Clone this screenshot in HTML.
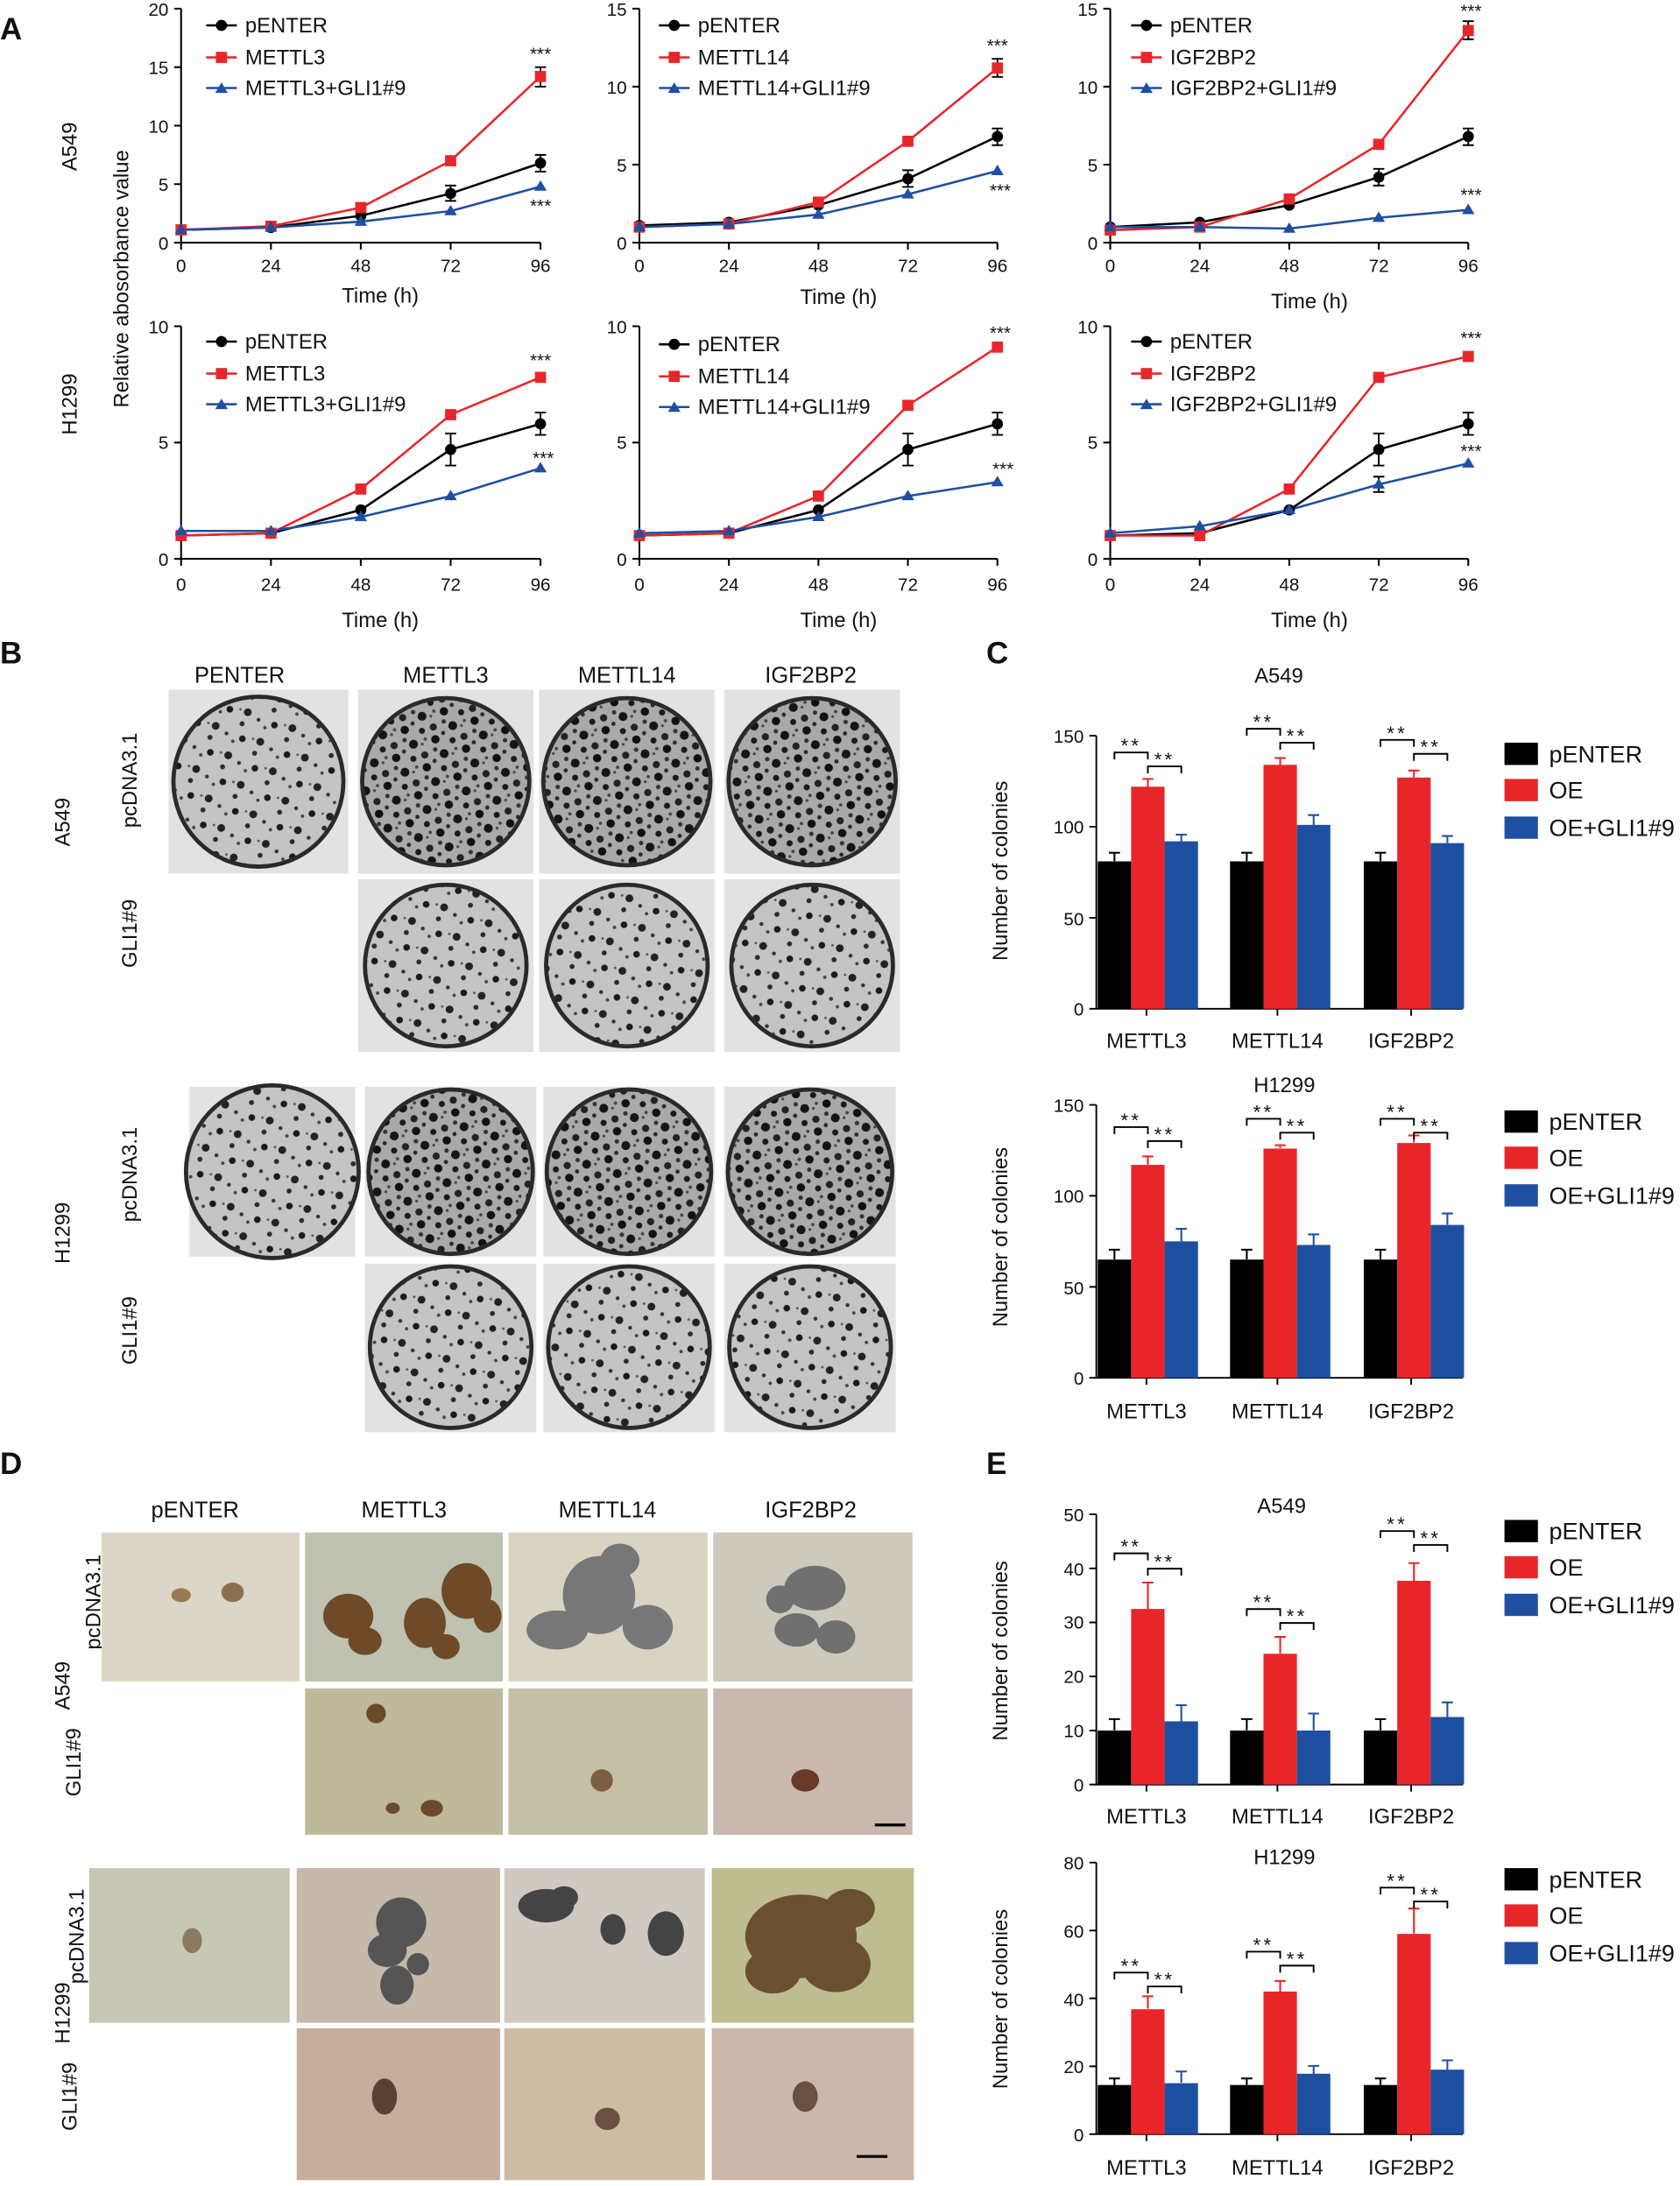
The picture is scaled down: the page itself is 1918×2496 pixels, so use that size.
<!DOCTYPE html>
<html><head><meta charset="utf-8"><style>
html,body{margin:0;padding:0;background:#fff}
svg{display:block}
text{font-family:"Liberation Sans",Arial,sans-serif;fill:#111}
</style></head><body>
<svg width="1918" height="2496" viewBox="0 0 1206 1569" xmlns="http://www.w3.org/2000/svg">
<defs>
<pattern id="dots" width="23" height="21" patternUnits="userSpaceOnUse" patternTransform="rotate(17)">
<rect width="23" height="21" fill="#a9a9a9"/>
<circle cx="3" cy="4" r="3.2" fill="#151515"/><circle cx="13" cy="9" r="2.6" fill="#222"/><circle cx="19" cy="3" r="1.6" fill="#333"/><circle cx="6" cy="14" r="2.2" fill="#1a1a1a"/><circle cx="17" cy="17" r="3" fill="#111"/><circle cx="10" cy="19" r="1.2" fill="#444"/><circle cx="21" cy="11" r="1.5" fill="#2a2a2a"/><circle cx="9" cy="2" r="1" fill="#444"/>
</pattern>
<pattern id="dots2" width="25" height="23" patternUnits="userSpaceOnUse" patternTransform="rotate(-23)">
<rect width="25" height="23" fill="#c4c4c4"/>
<circle cx="3" cy="4" r="2.4" fill="#1a1a1a"/><circle cx="14" cy="11" r="2.8" fill="#222"/><circle cx="21" cy="3" r="1.2" fill="#444"/><circle cx="7" cy="17" r="1.8" fill="#2a2a2a"/><circle cx="19" cy="19" r="1.4" fill="#333"/><circle cx="10" cy="7" r="0.9" fill="#555"/>
</pattern>
</defs>

<!-- Panel A -->
<text x="0" y="28" font-size="22" font-weight="bold">A</text>
<text transform="translate(55,105) rotate(-90)" font-size="15" text-anchor="middle">A549</text>
<text transform="translate(55,290) rotate(-90)" font-size="15" text-anchor="middle">H1299</text>
<text transform="translate(92,200) rotate(-90)" font-size="15" text-anchor="middle">Relative abosorbance value</text>

<g font-size="13" stroke-width="1.3">
<g stroke="#000" fill="none">
<path d="M130,6V174H388M125,6H130M125,48H130M125,90H130M125,132H130M125,174H130M130,174v5M194.5,174v5M259,174v5M323.5,174v5M388,174v5"/>
<path d="M459,6V174H716M454,6H459M454,62H459M454,118H459M454,174H459M459,174v5M523.25,174v5M587.5,174v5M651.75,174v5M716,174v5"/>
<path d="M797,6V174H1054M792,6H797M792,62H797M792,118H797M792,174H797M797,174v5M861.25,174v5M925.5,174v5M989.75,174v5M1054,174v5"/>
<path d="M130,234V401H388M125,234H130M125,317.5H130M125,401H130M130,401v5M194.5,401v5M259,401v5M323.5,401v5M388,401v5"/>
<path d="M459,234V401H716M454,234H459M454,317.5H459M454,401H459M459,401v5M523.25,401v5M587.5,401v5M651.75,401v5M716,401v5"/>
<path d="M797,234V401H1054M792,234H797M792,317.5H797M792,401H797M797,401v5M861.25,401v5M925.5,401v5M989.75,401v5M1054,401v5"/>
</g>
<g text-anchor="end">
<text x="121" y="11">20</text><text x="121" y="53">15</text><text x="121" y="95">10</text><text x="121" y="137">5</text><text x="121" y="179">0</text>
<text x="450" y="11">15</text><text x="450" y="67">10</text><text x="450" y="123">5</text><text x="450" y="179">0</text>
<text x="788" y="11">15</text><text x="788" y="67">10</text><text x="788" y="123">5</text><text x="788" y="179">0</text>
<text x="121" y="239">10</text><text x="121" y="322">5</text><text x="121" y="406">0</text>
<text x="450" y="239">10</text><text x="450" y="322">5</text><text x="450" y="406">0</text>
<text x="788" y="239">10</text><text x="788" y="322">5</text><text x="788" y="406">0</text>
</g>
<g text-anchor="middle">
<text x="130" y="195">0</text><text x="194.5" y="195">24</text><text x="259" y="195">48</text><text x="323.5" y="195">72</text><text x="388" y="195">96</text>
<text x="459" y="195">0</text><text x="523.25" y="195">24</text><text x="587.5" y="195">48</text><text x="651.75" y="195">72</text><text x="716" y="195">96</text>
<text x="797" y="195">0</text><text x="861.25" y="195">24</text><text x="925.5" y="195">48</text><text x="989.75" y="195">72</text><text x="1054" y="195">96</text>
<text x="130" y="424">0</text><text x="194.5" y="424">24</text><text x="259" y="424">48</text><text x="323.5" y="424">72</text><text x="388" y="424">96</text>
<text x="459" y="424">0</text><text x="523.25" y="424">24</text><text x="587.5" y="424">48</text><text x="651.75" y="424">72</text><text x="716" y="424">96</text>
<text x="797" y="424">0</text><text x="861.25" y="424">24</text><text x="925.5" y="424">48</text><text x="989.75" y="424">72</text><text x="1054" y="424">96</text>
<g font-size="15"><text x="273" y="217">Time (h)</text><text x="602" y="218">Time (h)</text><text x="940" y="221">Time (h)</text>
<text x="273" y="450">Time (h)</text><text x="602" y="450">Time (h)</text><text x="940" y="450">Time (h)</text></g>
</g>
</g>

<g fill="none" stroke-width="1.6">
<polyline stroke="#000" points="130,164.8 194.5,163.1 259,154.7 323.5,138.7 388,116.9"/>
<polyline stroke="#e8262a" points="130,164.8 194.5,162.2 259,148.8 323.5,115.2 388,54.7"/>
<polyline stroke="#1f4fa0" points="130,164.8 194.5,163.1 259,158.9 323.5,151.3 388,133.7"/>
<polyline stroke="#000" points="459,161.7 523.25,159.4 587.5,147.1 651.75,128.1 716,97.8"/>
<polyline stroke="#e8262a" points="459,162.8 523.25,160.6 587.5,144.9 651.75,101.2 716,48.6"/>
<polyline stroke="#1f4fa0" points="459,162.8 523.25,160.6 587.5,153.8 651.75,139.3 716,122.5"/>
<polyline stroke="#000" points="797,162.8 861.25,159.4 925.5,147.1 989.75,127 1054,97.8"/>
<polyline stroke="#e8262a" points="797,165 861.25,162.8 925.5,142.6 989.75,103.4 1054,21.7"/>
<polyline stroke="#1f4fa0" points="797,162.8 861.25,162.8 925.5,163.9 989.75,156.1 1054,150.5"/>
<polyline stroke="#000" points="130,384.3 194.5,382.6 259,365.9 323.5,322.5 388,304.1"/>
<polyline stroke="#e8262a" points="130,384.3 194.5,382.6 259,350.9 323.5,297.5 388,270.7"/>
<polyline stroke="#1f4fa0" points="130,381 194.5,381 259,370.9 323.5,355.9 388,335.9"/>
<polyline stroke="#000" points="459,384.3 523.25,382.6 587.5,365.9 651.75,322.5 716,304.1"/>
<polyline stroke="#e8262a" points="459,384.3 523.25,382.6 587.5,355.9 651.75,290.8 716,249"/>
<polyline stroke="#1f4fa0" points="459,382.6 523.25,381 587.5,370.9 651.75,355.9 716,345.9"/>
<polyline stroke="#000" points="797,384.3 861.25,382.6 925.5,365.9 989.75,322.5 1054,304.1"/>
<polyline stroke="#e8262a" points="797,384.3 861.25,384.3 925.5,350.9 989.75,270.7 1054,255.7"/>
<polyline stroke="#1f4fa0" points="797,382.6 861.25,377.6 925.5,365.9 989.75,347.6 1054,332.5"/>
</g>
<g stroke="#000" stroke-width="1.2">
<path d="M388,48v14M384,48h8M384,62h8M388,111v12M384,111h8M384,123h8M323.5,133v11M319.5,133h8M319.5,144h8"/>
<path d="M716,42v13M712,42h8M712,55h8M716,92v12M712,92h8M712,104h8M651.75,122v12M647.75,122h8M647.75,134h8"/>
<path d="M1054,15v13M1050,15h8M1050,28h8M1054,92v12M1050,92h8M1050,104h8M989.75,121v12M985.75,121h8M985.75,133h8"/>
<path d="M388,296v16M384,296h8M384,312h8M323.5,311v23M319.5,311h8M319.5,334h8"/>
<path d="M716,296v16M712,296h8M712,312h8M651.75,311v23M647.75,311h8M647.75,334h8"/>
<path d="M1054,296v16M1050,296h8M1050,312h8M989.75,311v23M985.75,311h8M985.75,334h8M989.75,342v11M985.75,342h8M985.75,353h8"/>
</g>
<g fill="#000">
<circle cx="130" cy="164.8" r="4"/><circle cx="194.5" cy="163.1" r="4"/><circle cx="259" cy="154.7" r="4"/><circle cx="323.5" cy="138.7" r="4"/><circle cx="388" cy="116.9" r="4"/>
<circle cx="459" cy="161.7" r="4"/><circle cx="523.25" cy="159.4" r="4"/><circle cx="587.5" cy="147.1" r="4"/><circle cx="651.75" cy="128.1" r="4"/><circle cx="716" cy="97.8" r="4"/>
<circle cx="797" cy="162.8" r="4"/><circle cx="861.25" cy="159.4" r="4"/><circle cx="925.5" cy="147.1" r="4"/><circle cx="989.75" cy="127" r="4"/><circle cx="1054" cy="97.8" r="4"/>
<circle cx="130" cy="384.3" r="4"/><circle cx="194.5" cy="382.6" r="4"/><circle cx="259" cy="365.9" r="4"/><circle cx="323.5" cy="322.5" r="4"/><circle cx="388" cy="304.1" r="4"/>
<circle cx="459" cy="384.3" r="4"/><circle cx="523.25" cy="382.6" r="4"/><circle cx="587.5" cy="365.9" r="4"/><circle cx="651.75" cy="322.5" r="4"/><circle cx="716" cy="304.1" r="4"/>
<circle cx="797" cy="384.3" r="4"/><circle cx="861.25" cy="382.6" r="4"/><circle cx="925.5" cy="365.9" r="4"/><circle cx="989.75" cy="322.5" r="4"/><circle cx="1054" cy="304.1" r="4"/>
</g>
<g fill="#e8262a">
<rect x="126" y="160.8" width="8" height="8"/><rect x="190.5" y="158.2" width="8" height="8"/><rect x="255" y="144.8" width="8" height="8"/><rect x="319.5" y="111.2" width="8" height="8"/><rect x="384" y="50.7" width="8" height="8"/>
<rect x="455" y="158.8" width="8" height="8"/><rect x="519.25" y="156.6" width="8" height="8"/><rect x="583.5" y="140.9" width="8" height="8"/><rect x="647.75" y="97.2" width="8" height="8"/><rect x="712" y="44.6" width="8" height="8"/>
<rect x="793" y="161" width="8" height="8"/><rect x="857.25" y="158.8" width="8" height="8"/><rect x="921.5" y="138.6" width="8" height="8"/><rect x="985.75" y="99.4" width="8" height="8"/><rect x="1050" y="17.7" width="8" height="8"/>
<rect x="126" y="380.3" width="8" height="8"/><rect x="190.5" y="378.6" width="8" height="8"/><rect x="255" y="346.9" width="8" height="8"/><rect x="319.5" y="293.5" width="8" height="8"/><rect x="384" y="266.7" width="8" height="8"/>
<rect x="455" y="380.3" width="8" height="8"/><rect x="519.25" y="378.6" width="8" height="8"/><rect x="583.5" y="351.9" width="8" height="8"/><rect x="647.75" y="286.8" width="8" height="8"/><rect x="712" y="245" width="8" height="8"/>
<rect x="793" y="380.3" width="8" height="8"/><rect x="857.25" y="380.3" width="8" height="8"/><rect x="921.5" y="346.9" width="8" height="8"/><rect x="985.75" y="266.7" width="8" height="8"/><rect x="1050" y="251.7" width="8" height="8"/>
</g>
<g fill="#1f4fa0">
<path d="M130,160.3l4.5,7.5h-9zM194.5,158.6l4.5,7.5h-9zM259,154.4l4.5,7.5h-9zM323.5,146.8l4.5,7.5h-9zM388,129.2l4.5,7.5h-9z"/>
<path d="M459,158.3l4.5,7.5h-9zM523.25,156.1l4.5,7.5h-9zM587.5,149.3l4.5,7.5h-9zM651.75,134.8l4.5,7.5h-9zM716,118l4.5,7.5h-9z"/>
<path d="M797,158.3l4.5,7.5h-9zM861.25,158.3l4.5,7.5h-9zM925.5,159.4l4.5,7.5h-9zM989.75,151.6l4.5,7.5h-9zM1054,146l4.5,7.5h-9z"/>
<path d="M130,376.5l4.5,7.5h-9zM194.5,376.5l4.5,7.5h-9zM259,366.4l4.5,7.5h-9zM323.5,351.4l4.5,7.5h-9zM388,331.4l4.5,7.5h-9z"/>
<path d="M459,378.1l4.5,7.5h-9zM523.25,376.5l4.5,7.5h-9zM587.5,366.4l4.5,7.5h-9zM651.75,351.4l4.5,7.5h-9zM716,341.4l4.5,7.5h-9z"/>
<path d="M797,378.1l4.5,7.5h-9zM861.25,373.1l4.5,7.5h-9zM925.5,361.4l4.5,7.5h-9zM989.75,343.1l4.5,7.5h-9zM1054,328l4.5,7.5h-9z"/>
</g>
<g font-size="13" text-anchor="middle">
<text x="388" y="43">***</text><text x="388" y="152">***</text>
<text x="716" y="37">***</text><text x="718" y="141">***</text>
<text x="1056" y="12">***</text><text x="1056" y="144">***</text>
<text x="388" y="263">***</text><text x="390" y="333">***</text>
<text x="718" y="243">***</text><text x="720" y="341">***</text>
<text x="1056" y="247">***</text><text x="1056" y="328">***</text>
</g>
<g font-size="15">
<g transform="translate(148,0)"><path d="M0,18h22" stroke="#000" stroke-width="1.6"/><circle cx="11" cy="18" r="4"/><text x="28" y="23">pENTER</text>
<path d="M0,41h22" stroke="#e8262a" stroke-width="1.6"/><rect x="7" y="37" width="8" height="8" fill="#e8262a"/><text x="28" y="46">METTL3</text>
<path d="M0,63h22" stroke="#1f4fa0" stroke-width="1.6"/><path d="M11,59l4.5,7.5h-9z" fill="#1f4fa0"/><text x="28" y="68">METTL3+GLI1#9</text></g>
<g transform="translate(473,0)"><path d="M0,18h22" stroke="#000" stroke-width="1.6"/><circle cx="11" cy="18" r="4"/><text x="28" y="23">pENTER</text>
<path d="M0,41h22" stroke="#e8262a" stroke-width="1.6"/><rect x="7" y="37" width="8" height="8" fill="#e8262a"/><text x="28" y="46">METTL14</text>
<path d="M0,63h22" stroke="#1f4fa0" stroke-width="1.6"/><path d="M11,59l4.5,7.5h-9z" fill="#1f4fa0"/><text x="28" y="68">METTL14+GLI1#9</text></g>
<g transform="translate(812,0)"><path d="M0,18h22" stroke="#000" stroke-width="1.6"/><circle cx="11" cy="18" r="4"/><text x="28" y="23">pENTER</text>
<path d="M0,41h22" stroke="#e8262a" stroke-width="1.6"/><rect x="7" y="37" width="8" height="8" fill="#e8262a"/><text x="28" y="46">IGF2BP2</text>
<path d="M0,63h22" stroke="#1f4fa0" stroke-width="1.6"/><path d="M11,59l4.5,7.5h-9z" fill="#1f4fa0"/><text x="28" y="68">IGF2BP2+GLI1#9</text></g>
<g transform="translate(148,227)"><path d="M0,18h22" stroke="#000" stroke-width="1.6"/><circle cx="11" cy="18" r="4"/><text x="28" y="23">pENTER</text>
<path d="M0,41h22" stroke="#e8262a" stroke-width="1.6"/><rect x="7" y="37" width="8" height="8" fill="#e8262a"/><text x="28" y="46">METTL3</text>
<path d="M0,63h22" stroke="#1f4fa0" stroke-width="1.6"/><path d="M11,59l4.5,7.5h-9z" fill="#1f4fa0"/><text x="28" y="68">METTL3+GLI1#9</text></g>
<g transform="translate(473,229)"><path d="M0,18h22" stroke="#000" stroke-width="1.6"/><circle cx="11" cy="18" r="4"/><text x="28" y="23">pENTER</text>
<path d="M0,41h22" stroke="#e8262a" stroke-width="1.6"/><rect x="7" y="37" width="8" height="8" fill="#e8262a"/><text x="28" y="46">METTL14</text>
<path d="M0,63h22" stroke="#1f4fa0" stroke-width="1.6"/><path d="M11,59l4.5,7.5h-9z" fill="#1f4fa0"/><text x="28" y="68">METTL14+GLI1#9</text></g>
<g transform="translate(812,227)"><path d="M0,18h22" stroke="#000" stroke-width="1.6"/><circle cx="11" cy="18" r="4"/><text x="28" y="23">pENTER</text>
<path d="M0,41h22" stroke="#e8262a" stroke-width="1.6"/><rect x="7" y="37" width="8" height="8" fill="#e8262a"/><text x="28" y="46">IGF2BP2</text>
<path d="M0,63h22" stroke="#1f4fa0" stroke-width="1.6"/><path d="M11,59l4.5,7.5h-9z" fill="#1f4fa0"/><text x="28" y="68">IGF2BP2+GLI1#9</text></g>
</g>

<!-- Panel B -->
<text x="0" y="476" font-size="22" font-weight="bold">B</text>
<g font-size="16" text-anchor="middle"><text x="172" y="490">PENTER</text><text x="320" y="490">METTL3</text><text x="450" y="490">METTL14</text><text x="582" y="490">IGF2BP2</text></g>
<g font-size="15" text-anchor="middle">
<text transform="translate(50,590) rotate(-90)">A549</text>
<text transform="translate(98,560) rotate(-90)">pcDNA3.1</text>
<text transform="translate(98,670) rotate(-90)">GLI1#9</text>
<text transform="translate(50,885) rotate(-90)">H1299</text>
<text transform="translate(98,843) rotate(-90)">pcDNA3.1</text>
<text transform="translate(98,955) rotate(-90)">GLI1#9</text>
</g>
<g stroke="#2a2a2a" stroke-width="3">
<rect x="121" y="495" width="129" height="132" fill="#e2e2e2" stroke="none"/><circle cx="185.5" cy="561" r="61" fill="url(#dots2)"/>
<rect x="257" y="495" width="126" height="132" fill="#e2e2e2" stroke="none"/><circle cx="320" cy="561" r="60" fill="url(#dots)"/>
<rect x="387" y="495" width="126" height="132" fill="#e2e2e2" stroke="none"/><circle cx="450" cy="561" r="60" fill="url(#dots)"/>
<rect x="520" y="495" width="126" height="132" fill="#e2e2e2" stroke="none"/><circle cx="583" cy="561" r="60" fill="url(#dots)"/>
<rect x="257" y="631" width="126" height="124" fill="#e2e2e2" stroke="none"/><circle cx="320" cy="693" r="58" fill="url(#dots2)"/>
<rect x="387" y="631" width="126" height="124" fill="#e2e2e2" stroke="none"/><circle cx="450" cy="693" r="58" fill="url(#dots2)"/>
<rect x="520" y="631" width="126" height="124" fill="#e2e2e2" stroke="none"/><circle cx="583" cy="693" r="58" fill="url(#dots2)"/>
<rect x="136" y="780" width="119" height="122" fill="#e2e2e2" stroke="none"/><circle cx="195.5" cy="841" r="62" fill="url(#dots2)"/>
<rect x="262" y="780" width="123" height="122" fill="#e2e2e2" stroke="none"/><circle cx="323.5" cy="841" r="59" fill="url(#dots)"/>
<rect x="390" y="780" width="123" height="122" fill="#e2e2e2" stroke="none"/><circle cx="451.5" cy="841" r="59" fill="url(#dots)"/>
<rect x="520" y="780" width="123" height="122" fill="#e2e2e2" stroke="none"/><circle cx="581.5" cy="841" r="59" fill="url(#dots)"/>
<rect x="262" y="907" width="123" height="121" fill="#e2e2e2" stroke="none"/><circle cx="323.5" cy="967" r="58" fill="url(#dots2)"/>
<rect x="390" y="907" width="123" height="121" fill="#e2e2e2" stroke="none"/><circle cx="451.5" cy="967" r="58" fill="url(#dots2)"/>
<rect x="520" y="907" width="123" height="121" fill="#e2e2e2" stroke="none"/><circle cx="581.5" cy="967" r="58" fill="url(#dots2)"/>
</g>

<!-- Panel C / E -->
<text x="708" y="476" font-size="22" font-weight="bold">C</text>
<g font-size="15" text-anchor="middle">
<text x="918" y="490">A549</text><text x="922" y="784">H1299</text>
<text transform="translate(723,625) rotate(-90)">Number of colonies</text>
<text transform="translate(723,888) rotate(-90)">Number of colonies</text>
<text transform="translate(723,1185) rotate(-90)">Number of colonies</text>
<text transform="translate(723,1435) rotate(-90)">Number of colonies</text>
<text x="823" y="752">METTL3</text><text x="917" y="752">METTL14</text><text x="1013" y="752">IGF2BP2</text>
<text x="823" y="1018">METTL3</text><text x="917" y="1018">METTL14</text><text x="1013" y="1018">IGF2BP2</text>
<text x="823" y="1309">METTL3</text><text x="917" y="1309">METTL14</text><text x="1013" y="1309">IGF2BP2</text>
<text x="823" y="1561">METTL3</text><text x="917" y="1561">METTL14</text><text x="1013" y="1561">IGF2BP2</text>
<text x="920" y="1086">A549</text><text x="922" y="1338">H1299</text>
</g>
<g font-size="13" text-anchor="end">
<text x="778" y="533">150</text><text x="778" y="598">100</text><text x="778" y="664">50</text><text x="778" y="729">0</text>
<text x="778" y="798">150</text><text x="778" y="863">100</text><text x="778" y="929">50</text><text x="778" y="994">0</text>
<text x="778" y="1092">50</text><text x="778" y="1131">40</text><text x="778" y="1169">30</text><text x="778" y="1208">20</text><text x="778" y="1247">10</text><text x="778" y="1286">0</text>
<text x="778" y="1342">80</text><text x="778" y="1391">60</text><text x="778" y="1440">40</text><text x="778" y="1488">20</text><text x="778" y="1537">0</text>
</g>
<g stroke="#000" stroke-width="1.2" fill="none">
<path d="M787,528V724H1050M782,528h5M782,593.3h5M782,658.7h5M782,724h5M823,724v5M917,724v5M1013,724v5"/>
<path d="M787,793V989H1050M782,793h5M782,858.3h5M782,923.7h5M782,989h5M823,989v5M917,989v5M1013,989v5"/>
<path d="M787,1087V1281H1050M782,1087h5M782,1125.8h5M782,1164.6h5M782,1203.4h5M782,1242.2h5M782,1281h5M823,1281v5M917,1281v5M1013,1281v5"/>
<path d="M787,1337V1532H1050M782,1337h5M782,1385.8h5M782,1434.5h5M782,1483.3h5M782,1532h5M823,1532v5M917,1532v5M1013,1532v5"/>
</g>
<g>
<rect x="788" y="618.2" width="24" height="105.8" fill="#000"/><rect x="812" y="564.6" width="24" height="159.4" fill="#e8262a"/><rect x="836" y="603.8" width="24" height="120.2" fill="#1f4fa0"/>
<rect x="883" y="618.2" width="24" height="105.8" fill="#000"/><rect x="907" y="548.9" width="24" height="175.1" fill="#e8262a"/><rect x="931" y="592" width="24" height="132" fill="#1f4fa0"/>
<rect x="979" y="618.2" width="24" height="105.8" fill="#000"/><rect x="1003" y="558" width="24" height="166" fill="#e8262a"/><rect x="1027" y="605.1" width="24" height="118.9" fill="#1f4fa0"/>
<rect x="788" y="904.1" width="24" height="84.9" fill="#000"/><rect x="812" y="836.1" width="24" height="152.9" fill="#e8262a"/><rect x="836" y="891" width="24" height="98" fill="#1f4fa0"/>
<rect x="883" y="904.1" width="24" height="84.9" fill="#000"/><rect x="907" y="824.4" width="24" height="164.6" fill="#e8262a"/><rect x="931" y="893.6" width="24" height="95.4" fill="#1f4fa0"/>
<rect x="979" y="904.1" width="24" height="84.9" fill="#000"/><rect x="1003" y="820.4" width="24" height="168.6" fill="#e8262a"/><rect x="1027" y="879.2" width="24" height="109.8" fill="#1f4fa0"/>
<rect x="788" y="1242.2" width="24" height="38.8" fill="#000"/><rect x="812" y="1154.9" width="24" height="126.1" fill="#e8262a"/><rect x="836" y="1235.6" width="24" height="45.4" fill="#1f4fa0"/>
<rect x="883" y="1242.2" width="24" height="38.8" fill="#000"/><rect x="907" y="1187.1" width="24" height="93.9" fill="#e8262a"/><rect x="931" y="1242.2" width="24" height="38.8" fill="#1f4fa0"/>
<rect x="979" y="1242.2" width="24" height="38.8" fill="#000"/><rect x="1003" y="1134.7" width="24" height="146.3" fill="#e8262a"/><rect x="1027" y="1232.5" width="24" height="48.5" fill="#1f4fa0"/>
<rect x="788" y="1496.7" width="24" height="35.3" fill="#000"/><rect x="812" y="1442.3" width="24" height="89.7" fill="#e8262a"/><rect x="836" y="1495.4" width="24" height="36.6" fill="#1f4fa0"/>
<rect x="883" y="1496.7" width="24" height="35.3" fill="#000"/><rect x="907" y="1429.6" width="24" height="102.4" fill="#e8262a"/><rect x="931" y="1488.6" width="24" height="43.4" fill="#1f4fa0"/>
<rect x="979" y="1496.7" width="24" height="35.3" fill="#000"/><rect x="1003" y="1388.2" width="24" height="143.8" fill="#e8262a"/><rect x="1027" y="1485.7" width="24" height="46.3" fill="#1f4fa0"/>
</g>
<g stroke-width="1.3" fill="none">
<path stroke="#000" d="M800,618v-6M796,612h8M895,618v-6M891,612h8M991,618v-6M987,612h8M800,904v-7M796,897h8M895,904v-7M891,897h8M991,904v-7M987,897h8M800,1242v-8M796,1234h8M895,1242v-8M891,1234h8M991,1242v-8M987,1234h8M800,1497v-5M796,1492h8M895,1497v-5M891,1492h8M991,1497v-5M987,1492h8"/>
<path stroke="#e8262a" d="M824,565v-6M820,559h8M919,549v-5M915,544h8M1015,558v-5M1011,553h8M824,836v-6M820,830h8M919,824v-2M915,822h8M1015,820v-5M1011,815h8M824,1155v-19M820,1136h8M919,1187v-12M915,1175h8M1015,1135v-13M1011,1122h8M824,1442v-9M820,1433h8M919,1430v-8M915,1422h8M1015,1388v-18M1011,1370h8"/>
<path stroke="#1f4fa0" d="M848,604v-5M844,599h8M943,592v-7M939,585h8M1039,605v-5M1035,600h8M848,891v-9M844,882h8M943,894v-8M939,886h8M1039,879v-8M1035,871h8M848,1236v-12M844,1224h8M943,1242v-12M939,1230h8M1039,1233v-11M1035,1222h8M848,1495v-8M844,1487h8M943,1489v-6M939,1483h8M1039,1486v-7M1035,1479h8"/>
</g>
<g stroke="#000" stroke-width="1.2" fill="none">
<path d="M800,545v-5h24v5M824,555v-5h24v5M895,528v-5h24v5M919,538v-5h24v5M991,536v-5h24v5M1015,546v-5h24v5"/>
<path d="M800,814v-5h24v5M824,824v-5h24v5M895,808v-5h24v5M919,818v-5h24v5M991,808v-5h24v5M1015,818v-5h24v5"/>
<path d="M800,1120v-5h24v5M824,1131v-5h24v5M895,1160v-5h24v5M919,1170v-5h24v5M991,1104v-5h24v5M1015,1114v-5h24v5"/>
<path d="M800,1421v-5h24v5M824,1431v-5h24v5M895,1406v-5h24v5M919,1416v-5h24v5M991,1360v-5h24v5M1015,1370v-5h24v5"/>
</g>
<g font-size="14" text-anchor="middle" letter-spacing="2">
<text x="812" y="540">**</text><text x="836" y="550">**</text><text x="907" y="523">**</text><text x="931" y="533">**</text><text x="1003" y="531">**</text><text x="1027" y="541">**</text>
<text x="812" y="809">**</text><text x="836" y="819">**</text><text x="907" y="803">**</text><text x="931" y="813">**</text><text x="1003" y="803">**</text><text x="1027" y="813">**</text>
<text x="812" y="1115">**</text><text x="836" y="1126">**</text><text x="907" y="1155">**</text><text x="931" y="1165">**</text><text x="1003" y="1099">**</text><text x="1027" y="1109">**</text>
<text x="812" y="1416">**</text><text x="836" y="1426">**</text><text x="907" y="1401">**</text><text x="931" y="1411">**</text><text x="1003" y="1355">**</text><text x="1027" y="1365">**</text>
</g>
<g font-size="17">
<g transform="translate(1080,533)"><rect width="24" height="16" fill="#000"/><text x="32" y="14">pENTER</text><rect y="26" width="24" height="16" fill="#e8262a"/><text x="32" y="40">OE</text><rect y="53" width="24" height="16" fill="#1f4fa0"/><text x="32" y="67">OE+GLI1#9</text></g>
<g transform="translate(1080,797)"><rect width="24" height="16" fill="#000"/><text x="32" y="14">pENTER</text><rect y="26" width="24" height="16" fill="#e8262a"/><text x="32" y="40">OE</text><rect y="53" width="24" height="16" fill="#1f4fa0"/><text x="32" y="67">OE+GLI1#9</text></g>
<g transform="translate(1080,1091)"><rect width="24" height="16" fill="#000"/><text x="32" y="14">pENTER</text><rect y="26" width="24" height="16" fill="#e8262a"/><text x="32" y="40">OE</text><rect y="53" width="24" height="16" fill="#1f4fa0"/><text x="32" y="67">OE+GLI1#9</text></g>
<g transform="translate(1080,1341)"><rect width="24" height="16" fill="#000"/><text x="32" y="14">pENTER</text><rect y="26" width="24" height="16" fill="#e8262a"/><text x="32" y="40">OE</text><rect y="53" width="24" height="16" fill="#1f4fa0"/><text x="32" y="67">OE+GLI1#9</text></g>
</g>

<!-- Panel D -->
<text x="0" y="1058" font-size="22" font-weight="bold">D</text>
<text x="708" y="1058" font-size="22" font-weight="bold">E</text>
<g font-size="16" text-anchor="middle"><text x="140" y="1089">pENTER</text><text x="290" y="1089">METTL3</text><text x="436" y="1089">METTL14</text><text x="582" y="1089">IGF2BP2</text></g>
<g font-size="15" text-anchor="middle">
<text transform="translate(50,1210) rotate(-90)">A549</text>
<text transform="translate(72,1150) rotate(-90)">pcDNA3.1</text>
<text transform="translate(58,1265) rotate(-90)">GLI1#9</text>
<text transform="translate(50,1445) rotate(-90)">H1299</text>
<text transform="translate(60,1390) rotate(-90)">pcDNA3.1</text>
<text transform="translate(55,1505) rotate(-90)">GLI1#9</text>
</g>
<g>
<rect x="73" y="1100" width="142" height="107" fill="#dcd6c8"/>
<rect x="219" y="1100" width="142" height="107" fill="#bfc2b0"/>
<rect x="365" y="1100" width="143" height="107" fill="#d8d3c3"/>
<rect x="512" y="1100" width="143" height="107" fill="#cdc9bc"/>
<rect x="219" y="1212" width="142" height="105" fill="#bdb99a"/>
<rect x="365" y="1212" width="143" height="105" fill="#c4c0a6"/>
<rect x="512" y="1212" width="143" height="105" fill="#c8b8ae"/>
<rect x="64" y="1341" width="144" height="111" fill="#c6c8b4"/>
<rect x="213" y="1341" width="146" height="111" fill="#c5b9aa"/>
<rect x="362" y="1341" width="144" height="111" fill="#cfc9c2"/>
<rect x="511" y="1341" width="145" height="111" fill="#bdbd8f"/>
<rect x="213" y="1456" width="146" height="109" fill="#c6ad9c"/>
<rect x="362" y="1456" width="144" height="109" fill="#cdbba3"/>
<rect x="511" y="1456" width="145" height="109" fill="#ccb7aa"/>
</g>
<g>
<ellipse cx="130" cy="1145" rx="7" ry="5" fill="#9a7a50"/><ellipse cx="167" cy="1143" rx="8" ry="7" fill="#8a7050"/>
<g fill="#6e4a28"><ellipse cx="250" cy="1160" rx="18" ry="16"/><ellipse cx="262" cy="1178" rx="12" ry="10"/><ellipse cx="305" cy="1165" rx="15" ry="18"/><ellipse cx="320" cy="1182" rx="10" ry="9"/><ellipse cx="335" cy="1142" rx="18" ry="20"/><ellipse cx="350" cy="1160" rx="10" ry="12"/></g>
<g fill="#777"><ellipse cx="430" cy="1145" rx="26" ry="28"/><ellipse cx="400" cy="1170" rx="22" ry="14"/><ellipse cx="465" cy="1168" rx="18" ry="16"/><ellipse cx="445" cy="1120" rx="14" ry="12"/></g>
<g fill="#707070"><ellipse cx="585" cy="1140" rx="22" ry="16"/><ellipse cx="572" cy="1170" rx="16" ry="12"/><ellipse cx="600" cy="1175" rx="14" ry="12"/><ellipse cx="560" cy="1148" rx="10" ry="10"/></g>
<ellipse cx="270" cy="1230" rx="7" ry="7" fill="#6a4a2a"/><ellipse cx="310" cy="1298" rx="8" ry="6" fill="#6a4a2a"/><ellipse cx="282" cy="1298" rx="5" ry="4" fill="#6a4a2a"/>
<ellipse cx="432" cy="1278" rx="8" ry="8" fill="#7a6040"/><ellipse cx="578" cy="1278" rx="10" ry="8" fill="#6a3a28"/>
<ellipse cx="138" cy="1393" rx="7" ry="9" fill="#8a7a60"/>
<g fill="#555"><ellipse cx="288" cy="1380" rx="18" ry="18"/><ellipse cx="278" cy="1400" rx="14" ry="12"/><ellipse cx="285" cy="1425" rx="12" ry="14"/><ellipse cx="300" cy="1410" rx="8" ry="8"/></g>
<g fill="#444"><ellipse cx="392" cy="1368" rx="20" ry="12"/><ellipse cx="440" cy="1385" rx="9" ry="11"/><ellipse cx="478" cy="1388" rx="13" ry="16"/><ellipse cx="405" cy="1362" rx="10" ry="8"/></g>
<g fill="#6a5030"><ellipse cx="575" cy="1390" rx="40" ry="30"/><ellipse cx="600" cy="1410" rx="25" ry="20"/><ellipse cx="555" cy="1415" rx="20" ry="16"/><ellipse cx="610" cy="1370" rx="18" ry="14"/></g>
<ellipse cx="276" cy="1505" rx="9" ry="13" fill="#5a4030"/><ellipse cx="436" cy="1521" rx="9" ry="8" fill="#6a5040"/><ellipse cx="578" cy="1505" rx="9" ry="11" fill="#6a5040"/>
<path d="M628,1310h22M615,1548h22" stroke="#000" stroke-width="2"/>
</g>
</svg>
</body></html>
